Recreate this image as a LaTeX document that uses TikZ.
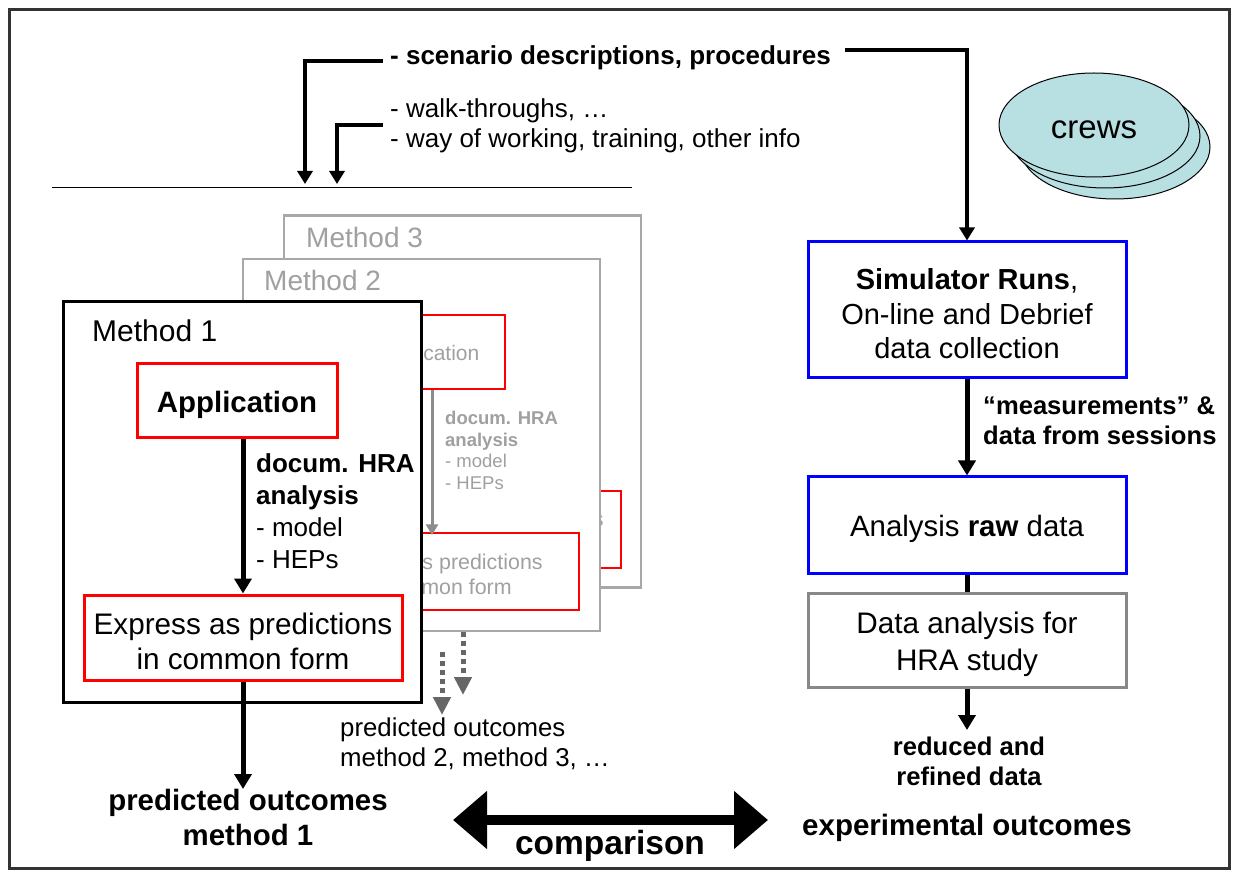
\documentclass[tikz,border=0pt]{standalone}
\usepackage{fontspec}
\setmainfont{Liberation Sans}
\usetikzlibrary{positioning}
\usetikzlibrary{shapes.geometric,arrows.meta}
\definecolor{framedark}{HTML}{333333}
\definecolor{ghost}{HTML}{A0A0A0}
\definecolor{ghostline}{HTML}{A8A8A8}
\definecolor{ghostarrow}{HTML}{8C8C8C}
\definecolor{dashgray}{HTML}{666666}
\definecolor{boxgray}{HTML}{888888}
\definecolor{crewfill}{HTML}{B8DFE2}
\newcommand{\fsz}[2]{\fontsize{#1}{#2}\selectfont}
\newcommand{\tallstrut}{\rule{0pt}{1em}}
\tikzstyle{txt} = [inner sep=0pt, align=center]
\tikzstyle{ghosttxt} = [inner sep=0pt, align=left, text=ghost]
\tikzstyle{frameone} = [rectangle, draw=black, line width=3pt, fill=white, minimum width=358pt, minimum height=400pt, inner sep=0pt]
\tikzstyle{ghostframe} = [rectangle, draw=ghostline, line width=2.5pt, fill=white, minimum width=357pt, minimum height=372pt, inner sep=0pt]
\tikzstyle{redbox} = [rectangle, draw=red, line width=3pt, fill=white, align=center, inner sep=0pt]
\tikzstyle{thinred} = [rectangle, draw=red, line width=1.5pt, align=center, inner sep=0pt, text=ghost]
\tikzstyle{bluebox} = [rectangle, draw=blue, line width=3pt, align=center, minimum width=318pt, inner sep=0pt]
\tikzstyle{graybox} = [rectangle, draw=boxgray, line width=3pt, align=center, minimum width=318pt, inner sep=0pt]
\tikzstyle{crewsell} = [ellipse, draw, line width=1pt, fill=crewfill, minimum width=190pt, minimum height=104pt, inner sep=0pt]
\tikzstyle{flow} = [draw, line width=5pt, -{Triangle[length=15pt,width=17pt]}]
\tikzstyle{flowin} = [draw, line width=4.5pt, -{Triangle[length=13pt,width=15pt]}]
\tikzstyle{ghostflow} = [draw=ghostarrow, line width=3pt, -{Triangle[length=11pt,width=12pt]}]
\tikzstyle{dashflow} = [draw=dashgray, line width=5pt, dash pattern=on 5pt off 4pt, -{Triangle[length=18pt,width=17pt]}]
\tikzstyle{cmparrow} = [draw, line width=10pt, {Triangle[length=34pt,width=56pt]}-{Triangle[length=34pt,width=56pt]}]

\begin{document}
\begin{tikzpicture}[x=1pt, y=-1pt]
			\useasboundingbox (0,0) rectangle (1235,874);
			\draw [line width=3pt, draw=framedark, fill=white] (9.5,9.5) rectangle (1229.5,868.5);
			% inputs at the top
			\node [txt, anchor=west, font=\bfseries\fsz{26}{30}] (scen) at (390,58) {- scenario descriptions, procedures};
			\node [txt, anchor=west, align=left, font=\fsz{26}{30}] (walk) at (390,126) {- walk-throughs, …\\- way of working, training, other info};
			\coordinate (barL) at (52,188);
			\coordinate (barR) at (632,188);
			\draw [line width=1pt] (barL) -- (barR);
			\coordinate (in1) at (305,184);
			\coordinate (in2) at (337,184);
			\path [flowin] ([xshift=-7pt,yshift=-3pt]scen.west) -| (in1);
			\path [flowin] ([xshift=-7pt,yshift=1pt]walk.west) -| (in2);
			% crews
			\node [crewsell] (crews3) at (1115,147) {};
			\node [crewsell] (crews2) at (1105,136) {};
			\node [crewsell, font=\fsz{33}{38}] (crews) at (1094,125) {\rule{0pt}{0.85em}crews};
			% method 3
			\node [ghostframe] (m3) at (462.5,401.5) {};
			\node [ghosttxt, anchor=west, font=\fsz{28}{32}] (m3name) at (306,237) {Method 3};
			\node [thinred, minimum width=288pt, minimum height=77pt] (m3expr) at (477,529.5) {};
			\node [ghosttxt, align=center, font=\fsz{21.4}{25}] (m3exprtxt) at (496,531) {Express as predictions\\in common form};
			% method 2
			\node [ghostframe] (m2) at (421.5,445) {};
			\node [ghosttxt, anchor=west, font=\fsz{28}{32}] (m2name) at (264,280) {Method 2};
			\node [thinred, minimum width=154pt, minimum height=74pt, font=\fsz{21}{25}] (m2app) at (428,352) {\tallstrut Application};
			\node [thinred, minimum width=288pt, minimum height=77pt, font=\fsz{21.4}{25}] (m2expr) at (435,571.5) {\tallstrut Express as predictions\\in common form};
			\path [ghostflow] ([xshift=4pt]m2app.south) -- ([xshift=-3pt,yshift=-3pt]m2expr.north);
			\node [ghosttxt, anchor=west, font=\fsz{18.5}{21.7}] (m2doc) at (445,450.5) {\textbf{docum. HRA}\\\textbf{analysis}\\- model\\- HEPs};
			% method 1
			\node [frameone] (m1) at (242,502) {};
			\node [txt, anchor=west, font=\fsz{30}{34}] (m1name) at (92,331) {Method 1};
			\node [redbox, minimum width=200pt, minimum height=74pt, font=\bfseries\fsz{29.4}{34}] (app) at (237,401) {\tallstrut Application};
			\node [redbox, minimum width=318pt, minimum height=85pt, font=\fsz{29.7}{35}] (expr) at (243,637.5) {\tallstrut Express as predictions\\in common form};
			\path [flow] (app.south -| expr.north) -- (expr.north);
			\node [txt, anchor=west, align=left, font=\fsz{26}{32}] (doc) at (256,511) {\textbf{docum. HRA}\\\textbf{analysis}\\- model\\- HEPs};
			\node [txt, anchor=north, font=\bfseries\fsz{29.4}{35}] (pred1) at (248,789) {predicted outcomes\\method 1};
			\path [flow] (expr.south) -- (expr.south |- pred1.north);
			% outcomes of the other methods
			\coordinate (d2end) at (463,695);
			\coordinate (d3top) at (442,652);
			\coordinate (d3end) at (442,715);
			\path [dashflow] (m2.south -| d2end) -- (d2end);
			\path [dashflow] (d3top) -- (d3end);
			\node [txt, anchor=west, align=left, font=\fsz{25.8}{30}] (pred23) at (340,744) {predicted outcomes\\method 2, method 3, …};
			% experiment
			\node [bluebox, minimum height=136pt, font=\fsz{29}{34.5}] (sim) at (967,310) {\tallstrut\textbf{Simulator Runs},\\On-line and Debrief\\data collection};
			\node [bluebox, minimum height=96pt, font=\fsz{29.4}{34}] (ana) at (967,525) {\tallstrut Analysis \textbf{raw} data};
			\node [graybox, minimum height=94pt, font=\fsz{29.7}{37}] (hra) at (967,640) {\tallstrut Data analysis for\\HRA study};
			\path [flowin] ([xshift=14pt,yshift=8pt]scen.east) -| (sim.north);
			\path [flow] (sim) -- (ana);
			\node [txt, anchor=west, align=left, font=\bfseries\fsz{25.6}{30}] (meas) at (983,421) {“measurements” \&\\data from sessions};
			\draw [line width=5pt] (ana) -- (hra);
			\node [txt, anchor=north, font=\bfseries\fsz{25.6}{30}] (reduced) at (969,737) {reduced and\\refined data};
			\path [flow, shorten >=7pt] (hra) -- (hra.south |- reduced.north);
			\node [txt, font=\bfseries\fsz{29.5}{34}] (exper) at (967,828) {experimental outcomes};
			% comparison
			\coordinate (cmpL) at (453,820);
			\coordinate (cmpR) at (768,820);
			\path [cmparrow] (cmpL) -- (cmpR);
			\node [txt, font=\bfseries\fsz{33.5}{38}] (cmp) at (610,846) {comparison};
\end{tikzpicture}
\end{document}
